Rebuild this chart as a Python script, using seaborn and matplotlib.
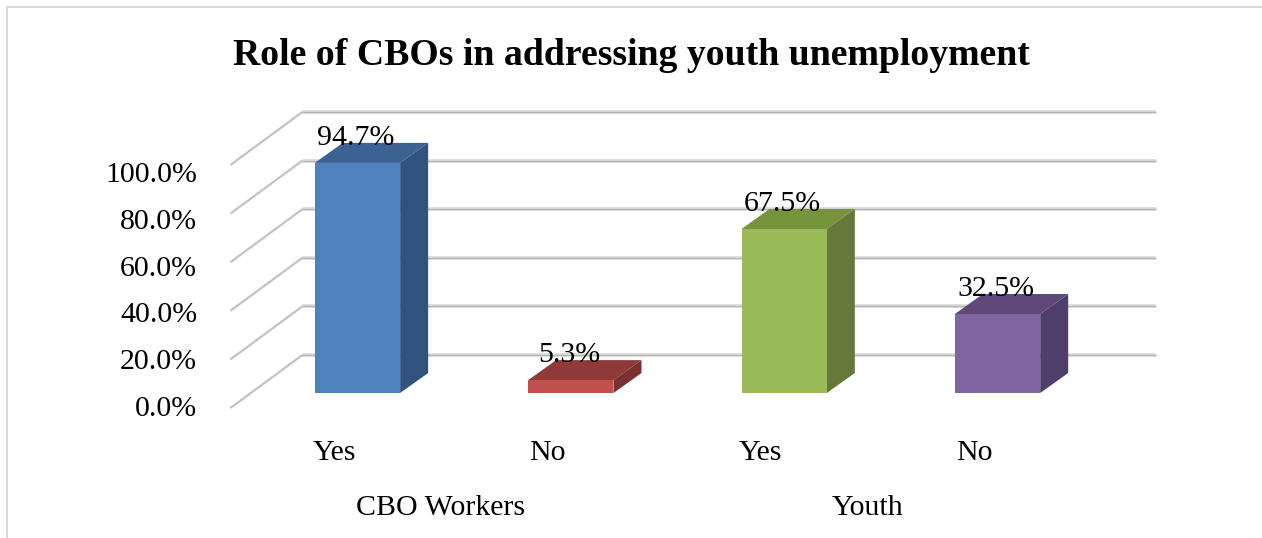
import numpy as np
import pandas as pd
import matplotlib
matplotlib.use("Agg")
import matplotlib.pyplot as plt
import seaborn as sns
from matplotlib.transforms import ScaledTranslation, blended_transform_factory
from matplotlib.patches import Polygon
from matplotlib.lines import Line2D

# ---------------- data ----------------
title = "Role of CBOs in addressing youth unemployment"
groups = ["CBO Workers", "CBO Workers", "Youth", "Youth"]
answers = ["Yes", "No", "Yes", "No"]
values = [94.7, 5.3, 67.5, 32.5]
group_names = ["CBO Workers", "Youth"]
y_ticks = [0, 20, 40, 60, 80, 100]
y_tick_labels = [f"{v:.1f}%" for v in y_ticks]

front_colors = ["#4f81bd", "#c0504d", "#9bbb59", "#8064a2"]
top_colors = ["#3b6293", "#8e3a38", "#77933c", "#5f497a"]
side_colors = ["#30527d", "#7a302e", "#64793a", "#4f3f6b"]

# ---------------- figure ----------------
W, H, DPI = 1262, 538, 100
sns.set_theme(style="white")
plt.rcParams["font.family"] = ["Liberation Serif", "DejaVu Serif"]
plt.rcParams["text.color"] = "black"
plt.rcParams["ytick.color"] = "black"
plt.rcParams["xtick.color"] = "black"
FS = 21.5

fig = plt.figure(figsize=(W / DPI, H / DPI), dpi=DPI)
fig.patch.set_facecolor("white")

# main axes = front plane of the bars
ax_l, ax_r, ax_b, ax_t = 250.8, 1104.2, 393.0, 150.0
ax = fig.add_axes([ax_l / W, 1 - ax_b / H, (ax_r - ax_l) / W, (ax_b - ax_t) / H])
ax.patch.set_alpha(0)

keys = [f"{g}|{a}" for g, a in zip(groups, answers)]
df = pd.DataFrame({"key": keys, "value": values})
sns.barplot(data=df, x="key", y="value", hue="key", palette=front_colors,
            saturation=1, width=0.4, legend=False, ax=ax, zorder=3,
            edgecolor="none", errorbar=None)
ax.set_xlim(-0.5, 3.5)
ax.set_ylim(0, 100)
for s in ax.spines.values():
    s.set_visible(False)
ax.set_xticks([])
ax.set_yticks([])
ax.set_xlabel("")
ax.set_ylabel("")


def shifted(x, y, dx, dy):
    px, py = ax.transData.transform((x, y))
    return tuple(ax.transData.inverted().transform((px + dx, py + dy)))


BAR_D = (28, 20)
WALL = (51.6, 38)
FLOOR = (-20.4, -15)

# back wall gridlines and left wall slanted lines
x0l, x1l = ax.get_xlim()
for v in y_ticks:
    a = shifted(x0l, v, *WALL)
    b = shifted(x1l, v, *WALL)
    f = shifted(x0l, v, *FLOOR)
    for lw, c in ((2.6, "#dadada"), (0.9, "#b5b5b5")):
        ax.plot([a[0], b[0]], [a[1], b[1]], color=c, lw=lw, zorder=1,
                clip_on=False, solid_capstyle="butt")
        ax.plot([f[0], a[0]], [f[1], a[1]], color=c, lw=lw * 0.75, zorder=1,
                clip_on=False, solid_capstyle="butt")

# 3D faces of the bars
bars = list(ax.patches)
for p, v, tc, sc in zip(bars, values, top_colors, side_colors):
    x0, w, h = p.get_x(), p.get_width(), p.get_height()
    fl, fr = (x0, h), (x0 + w, h)
    bl, br = shifted(x0, h, *BAR_D), shifted(x0 + w, h, *BAR_D)
    brb = shifted(x0 + w, 0, *BAR_D)
    ax.add_patch(Polygon([fl, fr, br, bl], closed=True, facecolor=tc,
                         edgecolor="none", zorder=2.5, clip_on=False))
    ax.add_patch(Polygon([fr, (x0 + w, 0), brb, br], closed=True, facecolor=sc,
                         edgecolor="none", zorder=2.5, clip_on=False))
    p.set_clip_on(False)
    ax.text(x0 + w / 2, v, f"{v:.1f}%", fontsize=FS, ha="center", va="baseline",
            color="black",
            transform=ax.transData + ScaledTranslation(-2 / DPI, 18 / DPI, fig.dpi_scale_trans),
            zorder=6, clip_on=False)

# category and group labels (front floor plane)
lbl_tr = blended_transform_factory(ax.transData, fig.transFigure) + \
    ScaledTranslation(-23.5 / DPI, 0, fig.dpi_scale_trans)
for i, a in enumerate(answers):
    ax.text(i, 1 - 460 / H, a, fontsize=FS, ha="center", va="baseline",
            color="black", transform=lbl_tr, clip_on=False)
for gi, g in enumerate(group_names):
    ax.text(2 * gi + 0.5, 1 - 515 / H, g, fontsize=FS, ha="center", va="baseline",
            color="black", transform=lbl_tr, clip_on=False)

# y tick labels on their own axis
lb, lt = 406.0, 172.0
ax_lbl = fig.add_axes([200 / W, 1 - lb / H, 0.001, (lb - lt) / H])
ax_lbl.set_ylim(0, 100)
ax_lbl.set_yticks(y_ticks)
ax_lbl.set_yticklabels(y_tick_labels, fontsize=FS, color="black")
ax_lbl.set_xticks([])
ax_lbl.tick_params(axis="y", length=0, pad=2)
ax_lbl.set_frame_on(False)
ax_lbl.patch.set_alpha(0)

# title
fig.text(631 / W, 1 - 65 / H, title, ha="center", va="baseline",
         fontsize=27.2, fontweight="bold", color="black")

# chart frame
fig.add_artist(Line2D([7 / W, 7 / W, 1.0], [0.0, 1 - 7 / H, 1 - 7 / H],
                      transform=fig.transFigure, color="#d9d9d9", lw=1.5))

fig.savefig("out.png", dpi=DPI)
